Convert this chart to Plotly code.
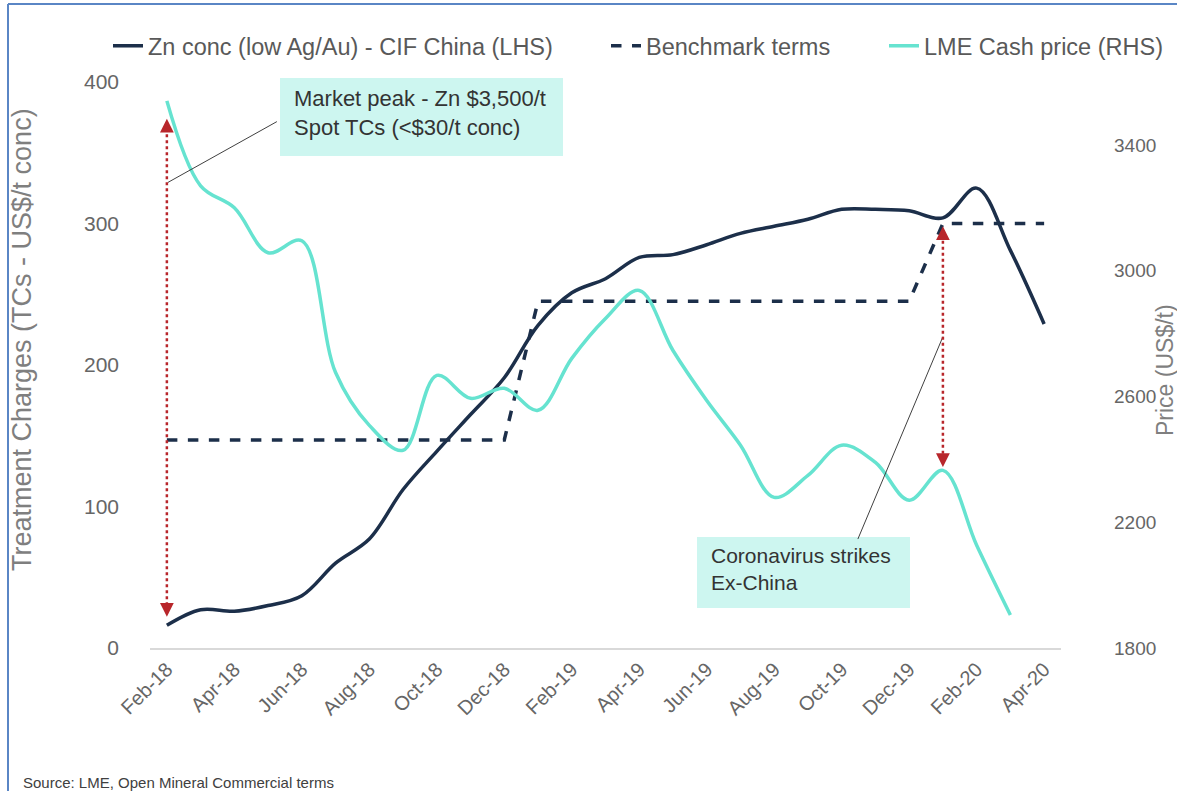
import plotly.graph_objects as go

# Monthly categories (Feb-18 .. Apr-20)
months = ['Feb-18', 'Mar-18', 'Apr-18', 'May-18', 'Jun-18', 'Jul-18', 'Aug-18',
          'Sep-18', 'Oct-18', 'Nov-18', 'Dec-18', 'Jan-19', 'Feb-19', 'Mar-19',
          'Apr-19', 'May-19', 'Jun-19', 'Jul-19', 'Aug-19', 'Sep-19', 'Oct-19',
          'Nov-19', 'Dec-19', 'Jan-20', 'Feb-20', 'Mar-20', 'Apr-20']

# Spot TCs, US$/t conc (LHS)
zn_conc = [16, 27, 26, 30, 37, 60, 77, 112, 139, 165, 191, 228, 251, 261,
           276, 278, 285, 293, 298, 303, 310, 310, 309, 304, 325, 281, 229]

# Annual benchmark TCs, US$/t conc (LHS)
benchmark = [147, 147, 147, 147, 147, 147, 147, 147, 147, 147, 147,
             245, 245, 245, 245, 245, 245, 245, 245, 245, 245, 245, 245,
             300, 300, 300, 300]

# LME cash price, US$/t (RHS)
lme_cash = [3540, 3270, 3200, 3057, 3095, 2676, 2508, 2429, 2667, 2594, 2626,
            2556, 2721, 2848, 2937, 2746, 2587, 2445, 2279, 2349, 2445, 2390,
            2270, 2365, 2127, 1905, None]

left_ticks = [0, 100, 200, 300, 400]
right_ticks = [1800, 2200, 2600, 3000, 3400]

x = list(range(len(months)))

NAVY = '#1c2f4a'
TEAL = '#66e3d0'
RED = '#b8262b'
BOX = '#cdf6f0'
FONT = 'Liberation Sans, Arial, sans-serif'

# page geometry (pixels)
W, H = 1177, 791
L, R, T, B = 150, 116, 82, 143
PW, PH = W - L - R, H - T - B


def px(xp):
    return (xp - L) / PW


def py(yp):
    return (H - B - yp) / PH


fig = go.Figure()

fig.add_trace(go.Scatter(
    x=x, y=zn_conc, name='Zn conc (low Ag/Au) - CIF China (LHS)', legend='legend',
    mode='lines', line=dict(color=NAVY, width=3.5, shape='spline', smoothing=1.0),
))
fig.add_trace(go.Scatter(
    x=x, y=benchmark, name='Benchmark terms', legend='legend2',
    mode='lines', line=dict(color=NAVY, width=3.5, dash='dash'),
))
fig.add_trace(go.Scatter(
    x=x, y=lme_cash, name='LME Cash price (RHS)', yaxis='y2', legend='legend3',
    mode='lines', line=dict(color=TEAL, width=3.5, shape='spline', smoothing=1.0),
))

# callout boxes and leader lines / red range arrows
shapes = [
    dict(type='rect', xref='paper', yref='paper', x0=px(280), x1=px(563),
         y0=py(156), y1=py(78), fillcolor=BOX, line=dict(width=0), layer='below'),
    dict(type='rect', xref='paper', yref='paper', x0=px(697), x1=px(910),
         y0=py(608), y1=py(537), fillcolor=BOX, line=dict(width=0), layer='below'),
    dict(type='line', xref='x', yref='y', x0=0.03, y0=329, x1=3.26, y1=372,
         line=dict(color='#404040', width=1)),
    dict(type='line', xref='x', yref='y', x0=20.48, y0=77, x1=23.0, y1=220,
         line=dict(color='#404040', width=1)),
    dict(type='line', xref='x', yref='y', x0=0, y0=26, x1=0, y1=368,
         line=dict(color=RED, width=2.5, dash='dot')),
    dict(type='line', xref='x', yref='y', x0=23.0, y0=133, x1=23.0, y1=293,
         line=dict(color=RED, width=2.5, dash='dot')),
    # frame of the slide
    dict(type='line', xref='paper', yref='paper', x0=px(8), x1=px(8),
         y0=py(4), y1=py(H + 5), line=dict(color='#5a86c5', width=2)),
    dict(type='line', xref='paper', yref='paper', x0=px(8), x1=px(W + 5),
         y0=py(4), y1=py(4), line=dict(color='#5a86c5', width=2)),
]

annotations = [
    dict(xref='paper', yref='paper', x=px(292), y=py(113), xanchor='left', yanchor='middle',
         align='left', showarrow=False,
         text='Market peak - Zn $3,500/t<br>Spot TCs (&lt;$30/t conc)',
         font=dict(size=22, color='#333333', family=FONT)),
    dict(xref='paper', yref='paper', x=px(709), y=py(569), xanchor='left', yanchor='middle',
         align='left', showarrow=False,
         text='Coronavirus strikes<br>Ex-China',
         font=dict(size=21, color='#333333', family=FONT)),
    # arrow heads
    dict(xref='x', yref='y', x=0, y=374, ax=0, ay=14, text='', showarrow=True,
         arrowhead=2, arrowsize=1.1, arrowwidth=2.5, arrowcolor=RED),
    dict(xref='x', yref='y', x=0, y=22, ax=0, ay=-14, text='', showarrow=True,
         arrowhead=2, arrowsize=1.1, arrowwidth=2.5, arrowcolor=RED),
    dict(xref='x', yref='y', x=23.0, y=298, ax=0, ay=14, text='', showarrow=True,
         arrowhead=2, arrowsize=1.1, arrowwidth=2.5, arrowcolor=RED),
    dict(xref='x', yref='y', x=23.0, y=128, ax=0, ay=-14, text='', showarrow=True,
         arrowhead=2, arrowsize=1.1, arrowwidth=2.5, arrowcolor=RED),
    # axis titles
    dict(xref='paper', yref='paper', x=px(22), y=py(340), textangle=-90,
         xanchor='center', yanchor='middle',
         showarrow=False, text='Treatment Charges (TCs - US$/t conc)',
         font=dict(size=27, color='#7f7f7f', family=FONT)),
    dict(xref='paper', yref='paper', x=px(1165), y=py(370), textangle=-90,
         xanchor='center', yanchor='middle',
         showarrow=False, text='Price (US$/t)',
         font=dict(size=23, color='#7f7f7f', family=FONT)),
    # source
    dict(xref='paper', yref='paper', x=px(21), y=py(782), xanchor='left', yanchor='middle',
         showarrow=False, text='Source: LME, Open Mineral Commercial terms',
         font=dict(size=15, color='#404040', family='Liberation Sans Narrow, Arial Narrow, ' + FONT)),
]

legend_style = dict(
    orientation='h', xref='container', yref='container',
    xanchor='left', y=1 - 46 / H, yanchor='middle',
    font=dict(size=23.5, color='#595959'), bgcolor='rgba(0,0,0,0)',
)

fig.update_layout(
    width=W, height=H,
    margin=dict(l=L, r=R, t=T, b=B, autoexpand=False),
    paper_bgcolor='white', plot_bgcolor='white',
    font=dict(family=FONT, color='#666666'),
    showlegend=True,
    shapes=shapes,
    annotations=annotations,
    legend=dict(legend_style, x=108 / W),
    legend2=dict(legend_style, x=606 / W),
    legend3=dict(legend_style, x=884 / W),
    xaxis=dict(
        range=[-0.5, len(months) - 0.5],
        tickvals=x[::2], ticktext=months[::2],
        tickangle=-45, tickfont=dict(size=20, color='#666666'),
        showgrid=False, zeroline=False,
        showline=True, linecolor='#d9d9d9', linewidth=1.5,
        ticks='',
    ),
    yaxis=dict(
        range=[0, 400], tickvals=left_ticks,
        tickfont=dict(size=21, color='#666666'),
        showgrid=False, zeroline=False, ticks='',
        ticklabelstandoff=30,
    ),
    yaxis2=dict(
        range=[1800, 3600], tickvals=right_ticks, overlaying='y', side='right',
        tickfont=dict(size=19, color='#666666'),
        showgrid=False, zeroline=False, ticks='',
        ticklabelstandoff=52,
    ),
)

fig.write_html('out.html', config={'displayModeBar': False},
               post_script="document.body.style.margin='0';document.body.style.overflow='hidden';")
